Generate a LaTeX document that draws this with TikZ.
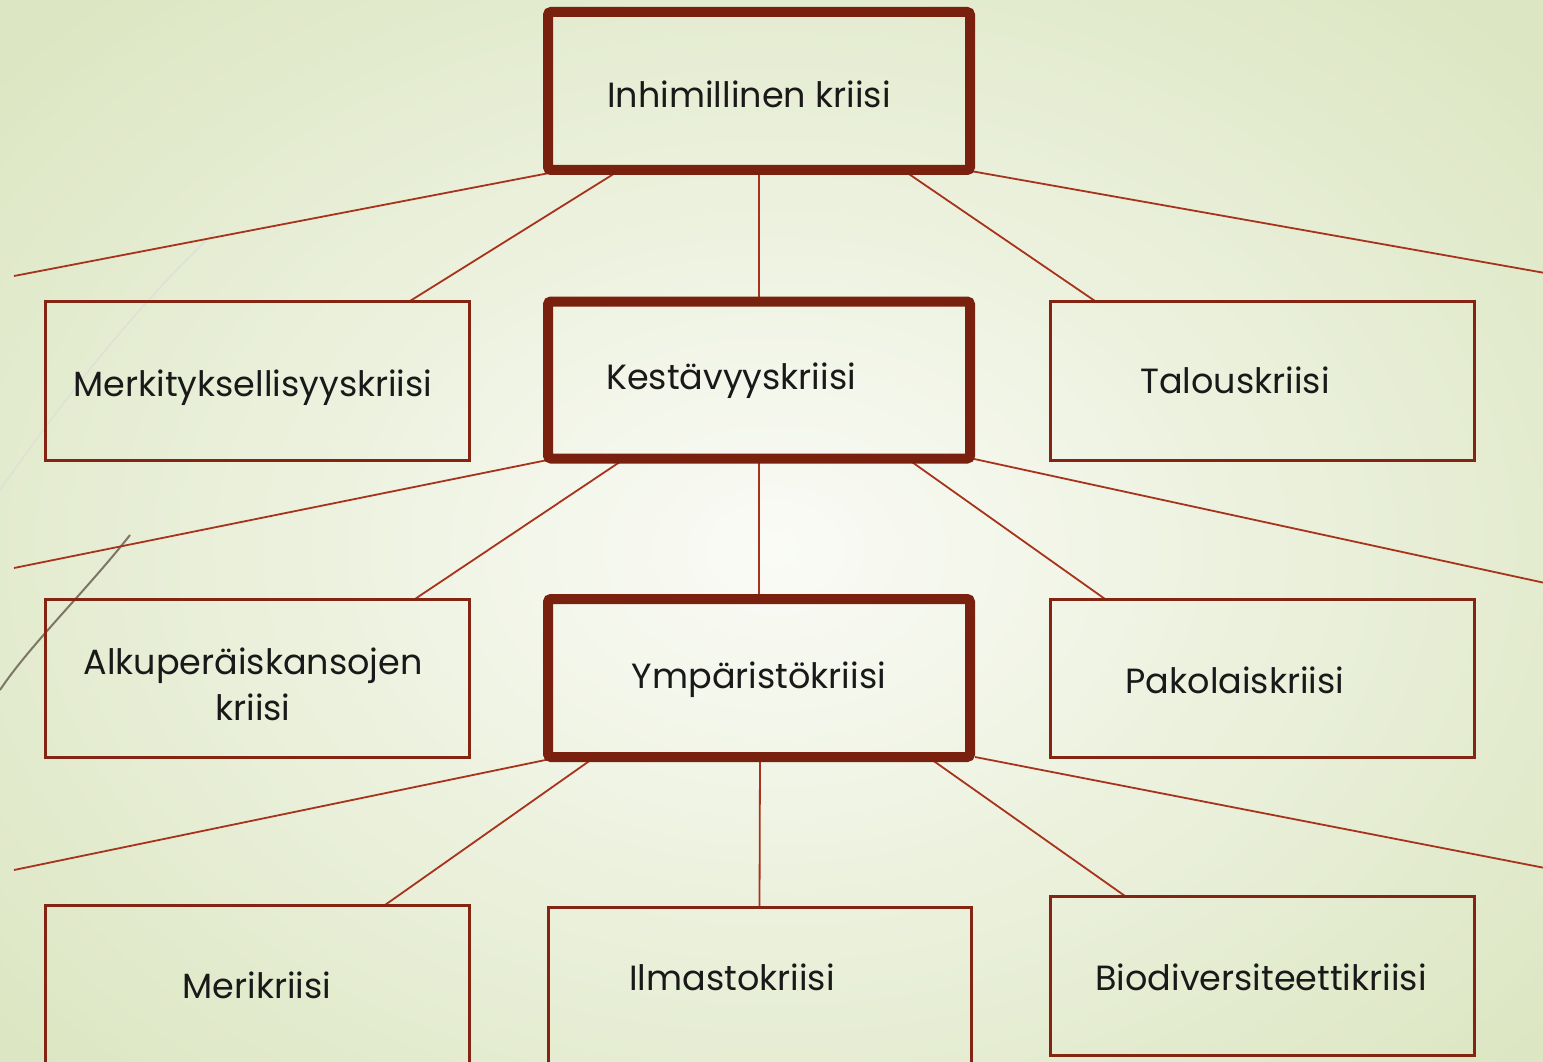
\documentclass[tikz,border=0pt]{standalone}
\usepackage{fontspec}
\setmainfont{Poppins}
\usetikzlibrary{calc}
\pgfdeclarelayer{back}
\pgfdeclarelayer{links}
\pgfsetlayers{back,links,main}
\definecolor{bgin}{HTML}{FAFBF6}
\definecolor{bgout}{HTML}{DCE6C2}
\definecolor{boxthick}{HTML}{7A200E}
\definecolor{boxthin}{HTML}{842413}
\definecolor{conn}{HTML}{A8331C}
\definecolor{deco}{HTML}{7D7565}
\tikzset{
  thickbox/.style={draw=boxthick, line width=10pt, rounded corners=3pt, rectangle, minimum width=422pt, inner sep=0pt, outer sep=0pt},
  thinbox/.style={draw=boxthin, line width=3pt, rectangle, minimum width=424pt, inner sep=0pt, outer sep=0pt},
  lbl/.style={font=\fontsize{35}{46}\selectfont, text=black!90, inner sep=0pt, align=center},
  link/.style={draw=conn, line width=1.8pt}
}
\begin{document}
\begin{tikzpicture}[x=1pt,y=-1pt]
\useasboundingbox (0,0) rectangle (1543,1062);
\clip (0,0) rectangle (1543,1062);
\begin{pgfonlayer}{back}
\shade[inner color=bgin, outer color=bgout] (-250,-200) rectangle (1800,1300);
% decorative lines
\draw[white!70!gray, line width=1.4pt, opacity=0.6] (0,490) .. controls (60,405) and (130,312) .. (215,232);
\draw[deco, line width=2pt] (130,535) .. controls (85,592) and (30,645) .. (0,690);
\end{pgfonlayer}

% boxes
\node[thickbox, minimum height=158pt] (top) at (759,91) {};
\node[thinbox, minimum height=159pt] (merk) at (257,380.5) {};
\node[thickbox, minimum height=157pt] (kest) at (759,380) {};
\node[thinbox, minimum height=159pt] (talo) at (1262,380.5) {};
\node[thinbox, minimum height=158pt] (alku) at (257,678) {};
\node[thickbox, minimum height=158pt] (ymp) at (759,678) {};
\node[thinbox, minimum height=158pt] (pako) at (1262,678) {};
\node[thinbox, minimum height=250pt] (meri) at (257,1030) {};
\node[thinbox, minimum width=423pt, minimum height=250pt] (ilma) at (759.5,1032) {};
\node[thinbox, minimum height=159pt] (bio) at (1262,975.5) {};

% free ends
\coordinate (f1l) at (14,276);
\coordinate (f1r) at (1545,273);
\coordinate (f2l) at (14,568);
\coordinate (f2r) at (1545,583);
\coordinate (f3l) at (14,870);
\coordinate (f3r) at (1545,868);

% connectors (behind the boxes)
\begin{pgfonlayer}{links}
\path[link] ([xshift=17pt]top.south west) -- (f1l);
\path[link] ([xshift=72pt]top.south west) -- ([xshift=365pt]merk.north west);
\path[link] (top.south) -- (kest.north);
\path[link] ([xshift=355pt]top.south west) -- ([xshift=45pt]talo.north west);
\path[link] ([xshift=-5pt]top.south east) -- (f1r);

\path[link] ([xshift=7pt]kest.south west) -- (f2l);
\path[link] ([xshift=77pt]kest.south west) -- ([xshift=370pt]alku.north west);
\path[link] (kest.south) -- (ymp.north);
\path[link] ([xshift=359pt]kest.south west) -- ([xshift=55pt]pako.north west);
\path[link] ([xshift=2pt]kest.south east) -- (f2r);

\path[link] ([xshift=12pt]ymp.south west) -- (f3l);
\path[link] ([xshift=47pt]ymp.south west) -- ([xshift=340pt]meri.north west);
\path[link] ([xshift=1pt]ymp.south) -- (ilma.north);
\path[link] ([xshift=380pt]ymp.south west) -- ([xshift=75pt]bio.north west);
\path[link] ([xshift=5pt]ymp.south east) -- (f3r);
\end{pgfonlayer}

% labels
\node[lbl] (ttop) at (749,94) {Inhimillinen kriisi};
\node[lbl] (tmerk) at (253,388) {Merkityksellisyyskriisi};
\node[lbl] (tkest) at (731,381) {Kestävyyskriisi};
\node[lbl] (ttalo) at (1235,380) {Talouskriisi};
\node[lbl] (talku) at (253,684) {Alkuperäiskansojen\\kriisi};
\node[lbl] (tymp) at (759,680) {Ympäristökriisi};
\node[lbl] (tpako) at (1235,680) {Pakolaiskriisi};
\node[lbl] (tmeri) at (257,985) {Merikriisi};
\node[lbl] (tilma) at (732,977) {Ilmastokriisi};
\node[lbl] (tbio) at (1261,977) {Biodiversiteettikriisi};
\end{tikzpicture}
\end{document}
